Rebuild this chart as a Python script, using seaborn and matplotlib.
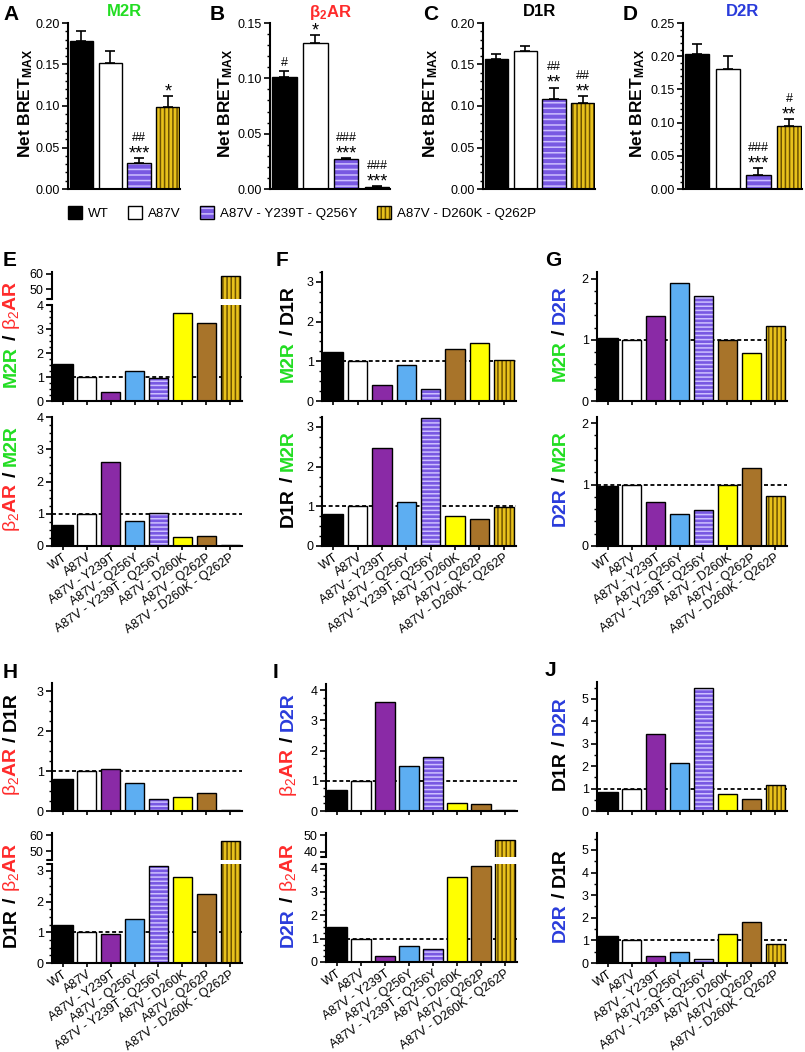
import matplotlib
matplotlib.use("Agg")
import matplotlib.pyplot as plt
import numpy as np
import pandas as pd
import seaborn as sns
from matplotlib.legend_handler import HandlerTuple
from matplotlib.patches import Patch, Rectangle
from matplotlib.ticker import AutoMinorLocator, FormatStrFormatter, MultipleLocator

W, H = 805, 1052

# ── Data: top row (net BRET max, mean ± SEM) ───────────────────────────────────
TOP_GROUPS = ["WT", "A87V", "A87V - Y239T - Q256Y", "A87V - D260K - Q262P"]

M2R_BRET = [0.178, 0.152, 0.031, 0.099]
M2R_SEM = [0.012, 0.014, 0.006, 0.013]
B2AR_BRET = [0.101, 0.132, 0.027, 0.002]
B2AR_SEM = [0.006, 0.007, 0.001, 0.0006]
D1R_BRET = [0.157, 0.166, 0.108, 0.104]
D1R_SEM = [0.006, 0.006, 0.014, 0.008]
D2R_BRET = [0.204, 0.180, 0.021, 0.095]
D2R_SEM = [0.014, 0.020, 0.010, 0.010]

M2R_STARS = ["", "", "***", "*"]
M2R_HASH = ["", "", "##", ""]
B2AR_STARS = ["", "*", "***", "***"]
B2AR_HASH = ["#", "", "###", "###"]
D1R_STARS = ["", "", "**", "**"]
D1R_HASH = ["", "", "##", "##"]
D2R_STARS = ["", "", "***", "**"]
D2R_HASH = ["", "", "###", "#"]

# ── Data: selectivity ratios ───────────────────────────────────────────────────
MUTANTS = ["WT", "A87V", "A87V - Y239T", "A87V - Q256Y", "A87V - Y239T - Q256Y",
           "A87V - D260K", "A87V - Q262P", "A87V - D260K - Q262P"]

M2R_OVER_B2AR = [1.53, 1.0, 0.37, 1.27, 0.97, 3.65, 3.25, 58.5]
B2AR_OVER_M2R = [0.65, 1.0, 2.60, 0.78, 1.02, 0.27, 0.30, 0.017]
M2R_OVER_D1R = [1.24, 1.0, 0.40, 0.90, 0.31, 1.31, 1.45, 1.03]
D1R_OVER_M2R = [0.80, 1.0, 2.48, 1.10, 3.22, 0.76, 0.69, 0.97]
M2R_OVER_D2R = [1.03, 1.0, 1.39, 1.93, 1.72, 1.0, 0.79, 1.23]
D2R_OVER_M2R = [0.97, 1.0, 0.72, 0.52, 0.58, 1.0, 1.27, 0.81]
B2AR_OVER_D1R = [0.81, 1.0, 1.05, 0.70, 0.31, 0.35, 0.44, 0.015]
D1R_OVER_B2AR = [1.23, 1.0, 0.95, 1.42, 3.15, 2.80, 2.25, 56.0]
B2AR_OVER_D2R = [0.68, 1.0, 3.60, 1.50, 1.77, 0.27, 0.23, 0.02]
D2R_OVER_B2AR = [1.48, 1.0, 0.27, 0.67, 0.57, 3.65, 4.10, 47.0]
D1R_OVER_D2R = [0.83, 1.0, 3.43, 2.13, 5.50, 0.77, 0.55, 1.18]
D2R_OVER_D1R = [1.20, 1.0, 0.29, 0.47, 0.18, 1.30, 1.82, 0.83]

# ── Colours ────────────────────────────────────────────────────────────────────
GREEN, RED, BLUE = "#22DD22", "#FF2B2B", "#2A3CDB"
YQ_FACE, YQ_LINE = "#7858E2", "#CDBFFF"
DQ_FACE, DQ_LINE = "#E8C21C", "#6E5200"

BLACK = ("black", None, None)
WHITE = ("white", None, None)
PURPLE = ("#8A2AA6", None, None)
LBLUE = ("#5DAEF2", None, None)
YELLOW = ("#FFFF00", None, None)
BROWN = ("#A8742A", None, None)
YQ_TOP = (YQ_FACE, "---", YQ_LINE)
DQ_TOP = (DQ_FACE, "||||", DQ_LINE)
YQ = (YQ_FACE, "----", YQ_LINE)
DQ = (DQ_FACE, "||||", DQ_LINE)

TOP_FILLS = [BLACK, WHITE, YQ_TOP, DQ_TOP]
RATIO_FILLS = [BLACK, WHITE, PURPLE, LBLUE, YQ, YELLOW, BROWN, DQ]
RATIO_FILLS_SWAP = [BLACK, WHITE, PURPLE, LBLUE, YQ, BROWN, YELLOW, DQ]

B2AR = r"$\mathrm{\beta}_\mathrm{2}$AR"

sns.set_theme(style="ticks")
plt.rcParams["font.family"] = ["Liberation Sans", "DejaVu Sans"]
plt.rcParams.update({
    "mathtext.fontset": "custom",
    "mathtext.rm": "Liberation Sans",
    "mathtext.bf": "Liberation Sans:bold",
    "mathtext.it": "Liberation Sans:italic",
    "hatch.linewidth": 1.1,
    "axes.linewidth": 1.5,
    "xtick.major.width": 1.2,
    "ytick.major.width": 1.2,
    "ytick.minor.width": 1.0,
    "xtick.major.size": 3.5,
    "ytick.major.size": 4,
    "ytick.minor.size": 2,
    "axes.edgecolor": "black",
    "xtick.color": "black",
    "ytick.color": "black",
    "text.color": "black",
})


def px_axes(fig, left, top, right, bottom):
    return fig.add_axes([left / W, 1 - bottom / H, (right - left) / W, (bottom - top) / H])


def draw_bars(ax, cats, vals, fills):
    df = pd.DataFrame({"group": cats, "value": vals})
    sns.barplot(data=df, x="group", y="value", hue="group", order=cats, hue_order=cats,
                palette=[f[0] for f in fills], saturation=1, width=0.8, errorbar=None,
                edgecolor="black", linewidth=1.0, legend=False, ax=ax, zorder=2)
    for p, (_, hatch, hcol) in zip(list(ax.patches), fills):
        if hatch:
            p.set_edgecolor(hcol)
            p.set_hatch(hatch)
            p.set_linewidth(0)
            ax.add_patch(Rectangle(p.get_xy(), p.get_width(), p.get_height(), fill=False,
                                   edgecolor="black", lw=1.0, zorder=3))
    ax.set_xlabel("")
    ax.set_ylabel("")
    sns.despine(ax=ax)


def rotated_label(fig, parts, x_base, yc, size):
    """Vertical multi-coloured label; x_base = baseline x (px), yc = centre (px from top)."""
    renderer = fig.canvas.get_renderer()
    texts = [fig.text(0, 0, s, color=c, rotation=90, rotation_mode="anchor",
                      ha="left", va="baseline", fontsize=size, fontweight="bold")
             for s, c in parts]
    gap = size * 0.28 * 100 / 72
    heights = [t.get_window_extent(renderer).height for t in texts]
    total = sum(heights) + gap * (len(texts) - 1)
    y = (H - yc) - total / 2
    for t, h in zip(texts, heights):
        t.set_position((x_base / W, y / H))
        y += h + gap


fig = plt.figure(figsize=(W / 100, H / 100), dpi=100)
fig.patch.set_facecolor("white")

# ── Top row: A–D ───────────────────────────────────────────────────────────────
top_panels = [
    ("A", "M2R", GREEN, M2R_BRET, M2R_SEM, M2R_STARS, M2R_HASH, 0.20, 68, 180, 30),
    ("B", r"$\mathbf{\beta}_\mathbf{2}$AR", RED, B2AR_BRET, B2AR_SEM, B2AR_STARS, B2AR_HASH, 0.15, 270, 390, 230),
    ("C", "D1R", "black", D1R_BRET, D1R_SEM, D1R_STARS, D1R_HASH, 0.20, 483, 595, 435),
    ("D", "D2R", BLUE, D2R_BRET, D2R_SEM, D2R_STARS, D2R_HASH, 0.25, 683, 802, 642),
]
for letter, title, tcol, vals, sems, stars, hashes, ymax, left, right, xlab in top_panels:
    ax = px_axes(fig, left, 23, right, 189)
    draw_bars(ax, TOP_GROUPS, vals, TOP_FILLS)
    ax.errorbar(np.arange(len(vals)), vals, yerr=[np.zeros(len(vals)), sems], fmt="none",
                ecolor="black", elinewidth=1.2, capsize=3.5, capthick=1.2, zorder=4)
    ax.set_xlim(-0.46, 3.42)
    ax.set_ylim(0, ymax)
    ax.yaxis.set_major_locator(MultipleLocator(0.05))
    ax.yaxis.set_minor_locator(MultipleLocator(0.01))
    ax.yaxis.set_major_formatter(FormatStrFormatter("%.2f"))
    ax.set_xticks([])
    ax.tick_params(axis="y", labelsize=9, pad=2)
    for i, (v, e, s, h) in enumerate(zip(vals, sems, stars, hashes)):
        if s:
            ax.annotate(s, (i, v + e), xytext=(0, 0), textcoords="offset points",
                        ha="center", va="baseline", fontsize=13, zorder=5)
        if h:
            off = 12.5 if s else 3.5
            ax.annotate(h, (i, v + e), xytext=(0, off), textcoords="offset points",
                        ha="center", va="baseline", fontsize=9, zorder=5)
    rotated_label(fig, [(r"Net BRET$_\mathbf{MAX}$", "black")], xlab, 103, 12.5)
    fig.text(3 / W if letter == "A" else (left - 60) / W, 1 - 15 / H, letter,
             fontsize=15, fontweight="bold", va="center", ha="left")
    fig.text((left + right) / 2 / W, 1 - 12 / H, title, color=tcol, fontsize=12,
             fontweight="bold", ha="center", va="center")

# ── Legend ─────────────────────────────────────────────────────────────────────
handles = []
for face, hatch, hcol in TOP_FILLS:
    if hatch:
        handles.append((Patch(facecolor=face, edgecolor=hcol, hatch=hatch, linewidth=0),
                        Patch(fill=False, edgecolor="black", linewidth=1.0)))
    else:
        handles.append(Patch(facecolor=face, edgecolor="black", linewidth=1.0))
fig.legend(handles, TOP_GROUPS, loc="center left", bbox_to_anchor=(68 / W, 1 - 213 / H),
           ncol=4, frameon=False, fontsize=9.6, handlelength=1.05, handleheight=1.05,
           handletextpad=0.45, columnspacing=1.45, borderpad=0, borderaxespad=0,
           handler_map={tuple: HandlerTuple(ndivide=1)})

# ── Ratio panels E–J ───────────────────────────────────────────────────────────
ratio_panels = [
    ("E", M2R_OVER_B2AR, RATIO_FILLS, [("M2R", GREEN), ("/", "black"), (B2AR, RED)],
     52, 242, 272, 401, 4.0, 4, (299, 305, 44, 61, [50, 60]), False),
    (None, B2AR_OVER_M2R, RATIO_FILLS, [(B2AR, RED), ("/", "black"), ("M2R", GREEN)],
     52, 242, 417, 546, 4.0, 4, None, True),
    ("F", M2R_OVER_D1R, RATIO_FILLS_SWAP, [("M2R", GREEN), ("/", "black"), ("D1R", "black")],
     322, 516, 272, 401, 3.25, 4, None, False),
    (None, D1R_OVER_M2R, RATIO_FILLS, [("D1R", "black"), ("/", "black"), ("M2R", GREEN)],
     322, 516, 417, 546, 3.25, 4, None, True),
    ("G", M2R_OVER_D2R, RATIO_FILLS_SWAP, [("M2R", GREEN), ("/", "black"), ("D2R", BLUE)],
     597, 787, 272, 401, 2.11, 5, None, False),
    (None, D2R_OVER_M2R, RATIO_FILLS, [("D2R", BLUE), ("/", "black"), ("M2R", GREEN)],
     597, 787, 417, 546, 2.1, 5, None, True),
    ("H", B2AR_OVER_D1R, RATIO_FILLS, [(B2AR, RED), ("/", "black"), ("D1R", "black")],
     52, 242, 683, 811, 3.2, 4, None, False),
    (None, D1R_OVER_B2AR, RATIO_FILLS, [("D1R", "black"), ("/", "black"), (B2AR, RED)],
     52, 242, 833, 963, 3.22, 4, (860, 864, 44.4, 61.25, [50, 60]), True),
    ("I", B2AR_OVER_D2R, RATIO_FILLS, [(B2AR, RED), ("/", "black"), ("D2R", BLUE)],
     326, 517, 684, 811, 4.2, 4, None, False),
    (None, D2R_OVER_B2AR, RATIO_FILLS, [("D2R", BLUE), ("/", "black"), (B2AR, RED)],
     326, 517, 833, 962, 4.2, 4, (857, 864, 36.7, 51.3, [40, 50]), True),
    ("J", D1R_OVER_D2R, RATIO_FILLS, [("D1R", "black"), ("/", "black"), ("D2R", BLUE)],
     597, 787, 682, 811, 5.75, 2, None, False),
    (None, D2R_OVER_D1R, RATIO_FILLS, [("D2R", BLUE), ("/", "black"), ("D1R", "black")],
     597, 787, 833, 963, 5.75, 2, None, True),
]

LABEL_BASE = {52: 16, 322: 293, 326: 293, 597: 565}

for letter, vals, fills, parts, left, right, top, bottom, ymax, nminor, broken, show_x in ratio_panels:
    low_top = broken[1] if broken else top
    ax = px_axes(fig, left, low_top, right, bottom)
    draw_bars(ax, MUTANTS, vals, fills)
    ax.axhline(1, color="black", lw=1.3, ls=(0, (2.2, 1.5)), zorder=1)
    ax.set_xlim(-0.46, 7.5)
    ax.set_ylim(0, ymax)
    ax.yaxis.set_major_locator(MultipleLocator(1))
    ax.yaxis.set_minor_locator(AutoMinorLocator(nminor))
    ax.tick_params(axis="y", labelsize=9, pad=2)
    ax.tick_params(axis="x", length=3, pad=1)
    ax.set_xticks(range(len(MUTANTS)))
    if show_x:
        ax.set_xticklabels(MUTANTS, rotation=35, ha="right", rotation_mode="anchor", fontsize=9)
    else:
        ax.set_xticklabels([])

    if broken:
        up_bottom, _, ylo, yhi, ticks = broken
        axu = px_axes(fig, left, top, right, up_bottom)
        draw_bars(axu, MUTANTS, vals, fills)
        axu.set_xlim(-0.46, 7.5)
        axu.set_ylim(ylo, yhi)
        axu.set_yticks(ticks)
        axu.spines["bottom"].set_visible(False)
        axu.set_xticks([])
        axu.tick_params(axis="y", labelsize=9, pad=2)
        axu.plot([-0.025, 0], [0, 0], transform=axu.transAxes, color="black", lw=1.5, clip_on=False)
        ax.plot([-0.025, 0], [1, 1], transform=ax.transAxes, color="black", lw=1.5, clip_on=False)

    rotated_label(fig, parts, LABEL_BASE[left], (top + bottom) / 2 - 3, 14)
    if letter:
        fx = {52: 3, 322: 276, 326: 273, 597: 545}[left]
        fig.text(fx / W, 1 - (top - 11) / H, letter, fontsize=15, fontweight="bold",
                 va="center", ha="left")

fig.savefig("out.png", dpi=100, facecolor="white")
